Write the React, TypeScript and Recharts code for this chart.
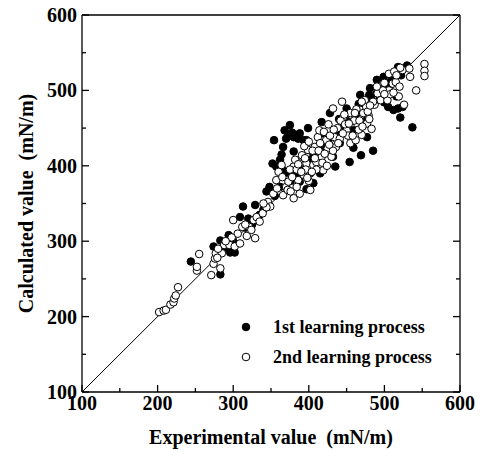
import { ScatterChart, Scatter, XAxis, YAxis, ReferenceLine, Legend } from "recharts"

const font = "'Liberation Serif', 'Times New Roman', serif"

const axisMin = 100
const axisMax = 600
const ticks = [100, 150, 200, 250, 300, 350, 400, 450, 500, 550, 600]

const seriesNames = ["1st learning process", "2nd learning process"]
const seriesFill = ["#000000", "#ffffff"]

// [experimental, calculated]
const firstProcess: [number, number][] = [
  [244, 273], [274, 293], [283, 256], [283, 301], [296, 285], [302, 285], [294, 308], [313, 346],
  [309, 332], [320, 330], [329, 348], [344, 366], [348, 372], [352, 403], [354, 434], [366, 425],
  [368, 447], [375, 454], [373, 441], [380, 438], [386, 436], [393, 434], [380, 419], [364, 415],
  [371, 391], [388, 379], [397, 369], [399, 450], [417, 458], [435, 399], [454, 405], [469, 414],
  [485, 420], [537, 451], [521, 464], [512, 474], [518, 476], [490, 514], [499, 518], [481, 503],
  [468, 494], [494, 492], [514, 522], [518, 531], [530, 533], [505, 478], [472, 474], [450, 476],
  [428, 470], [417, 443], [441, 430], [459, 447], [477, 461], [477, 438], [432, 412], [406, 416],
  [397, 434], [406, 377], [357, 399], [366, 394], [415, 390], [388, 443], [459, 424], [490, 496],
  [507, 505], [278, 280], [288, 290], [300, 300], [316, 318], [325, 322], [335, 335], [340, 342],
  [355, 360], [362, 372], [376, 380], [384, 390], [392, 398], [402, 408], [410, 420], [420, 425],
  [426, 436], [436, 445], [446, 452], [452, 460], [462, 468], [474, 480], [482, 490], [496, 502],
  [504, 510], [510, 515], [522, 520], [370, 436], [378, 444], [362, 408], [440, 462], [466, 482],
  [480, 494], [500, 484], [516, 492], [524, 478],
]

const secondProcess: [number, number][] = [
  [202, 206], [208, 208], [211, 209], [217, 216], [221, 219], [222, 224], [224, 228], [227, 239],
  [252, 261], [252, 266], [255, 283], [271, 255], [274, 270], [276, 277], [277, 284], [283, 264],
  [285, 284], [288, 295], [295, 295], [300, 328], [302, 293], [306, 310], [309, 297], [312, 319],
  [318, 307], [321, 319], [324, 315], [327, 328], [329, 304], [331, 332], [335, 326], [339, 337],
  [346, 352], [349, 346], [353, 363], [357, 381], [360, 392], [364, 401], [366, 361], [370, 372],
  [373, 379], [380, 357], [380, 399], [382, 408], [386, 381], [388, 403], [391, 414], [388, 363],
  [393, 388], [397, 403], [399, 421], [402, 390], [402, 368], [406, 401], [408, 425], [412, 438],
  [414, 447], [417, 412], [419, 394], [423, 434], [425, 423], [430, 412], [432, 476], [434, 438],
  [436, 425], [441, 436], [444, 485], [446, 465], [450, 447], [455, 430], [457, 467], [462, 434],
  [464, 456], [468, 474], [470, 441], [474, 487], [477, 456], [479, 467], [483, 449], [487, 481],
  [491, 496], [495, 487], [504, 487], [506, 500], [506, 522], [511, 509], [513, 525], [515, 511],
  [519, 492], [524, 527], [526, 481], [533, 529], [534, 518], [542, 500], [553, 535], [553, 526],
  [553, 519], [375, 395], [378, 385], [395, 410], [400, 380], [410, 405], [405, 420], [415, 430],
  [420, 445], [428, 440], [438, 450], [442, 460], [448, 455], [452, 440], [460, 460], [466, 448],
  [472, 470], [476, 478], [480, 462], [485, 485], [498, 500], [500, 510], [508, 495], [516, 520],
  [520, 505], [344, 345], [358, 370], [365, 385], [372, 368], [384, 395], [396, 395], [340, 350],
  [316, 322], [298, 305], [290, 300], [280, 290], [279, 278], [426, 455], [432, 420], [445, 443],
  [455, 470], [463, 475], [470, 485], [490, 505], [500, 495], [512, 497], [521, 530], [410, 395],
  [404, 392], [394, 426], [400, 432], [408, 410], [413, 420], [421, 416], [427, 428], [433, 448],
  [439, 430], [447, 468], [453, 456], [458, 440], [461, 470], [467, 460], [471, 452], [478, 472],
  [481, 480], [386, 402], [390, 392], [384, 372], [376, 366], [398, 384], [418, 404], [424, 400],
]

const toPoints = (pairs: [number, number][]) => pairs.map(([x, y]) => ({ x, y }))

const isMajor = (v: number) => v % 100 === 0
const tickLen = (v: number) => (isMajor(v) ? 7 : 4)
const textStyle = { fontFamily: font, fontWeight: "bold" as const, fontSize: 20, fill: "#000" }
const frame = { stroke: "#000", strokeWidth: 1.3 }

function BottomTick({ x, y, payload }: any) {
  const v = payload.value
  return (
    <g>
      <line x1={x} y1={y} x2={x} y2={y - tickLen(v)} stroke="#000" strokeWidth={1.3} />
      {isMajor(v) && (
        <text x={x} y={y + 18} textAnchor="middle" style={textStyle}>
          {v}
        </text>
      )}
    </g>
  )
}

function LeftTick({ x, y, payload }: any) {
  const v = payload.value
  return (
    <g>
      <line x1={x} y1={y} x2={x + tickLen(v)} y2={y} stroke="#000" strokeWidth={1.3} />
      {isMajor(v) && (
        <text x={x - 5} y={y + 7} textAnchor="end" style={textStyle}>
          {v}
        </text>
      )}
    </g>
  )
}

function TopTick({ x, y, payload }: any) {
  return (
    <g>
      <line x1={x} y1={y} x2={x} y2={y + tickLen(payload.value)} stroke="#000" strokeWidth={1.3} />
    </g>
  )
}

function RightTick({ x, y, payload }: any) {
  return (
    <g>
      <line x1={x} y1={y} x2={x - tickLen(payload.value)} y2={y} stroke="#000" strokeWidth={1.3} />
    </g>
  )
}

const dot = (fill: string) => (props: any) =>
  <circle cx={props.cx} cy={props.cy} r={3.8} fill={fill} stroke="#000" strokeWidth={1} />

const renderLegend = ({ payload }: any) => (
  <div style={{ fontFamily: font, fontWeight: "bold", fontSize: 18 }}>
    {(payload || []).map((entry: any, i: number) => (
      <div key={i} style={{ display: "flex", alignItems: "center", height: 30 }}>
        <svg width={10} height={10} style={{ marginRight: 22 }}>
          <circle cx={5} cy={5} r={3.8} fill={seriesFill[seriesNames.indexOf(entry.value)]} stroke="#000" strokeWidth={1} />
        </svg>
        <span style={{ whiteSpace: "pre" }}>{entry.value}</span>
      </div>
    ))}
  </div>
)

export default function App() {
  return (
    <div style={{ position: "absolute", left: 0, top: 0, background: "#fff" }}>
      <ScatterChart width={481} height={450} margin={{ top: 14, right: 20, bottom: 0, left: 0 }}>
        <ReferenceLine
          segment={[{ x: axisMin, y: axisMin }, { x: axisMax, y: axisMax }]}
          stroke="#000"
          strokeWidth={1}
          ifOverflow="visible"
        />
        <Scatter
          name={seriesNames[0]}
          data={toPoints(firstProcess)}
          fill={seriesFill[0]}
          shape={dot(seriesFill[0])}
          isAnimationActive={false}
        />
        <Scatter
          name={seriesNames[1]}
          data={toPoints(secondProcess)}
          fill={seriesFill[1]}
          shape={dot(seriesFill[1])}
          isAnimationActive={false}
        />
        <XAxis
          xAxisId={0}
          type="number"
          dataKey="x"
          domain={[axisMin, axisMax]}
          ticks={ticks}
          interval={0}
          allowDataOverflow
          height={58}
          tickSize={0}
          tickMargin={0}
          tickLine={false}
          tick={<BottomTick />}
          axisLine={frame}
          label={{
            content: ({ viewBox }: any) => (
              <text x={viewBox.x + viewBox.width / 2} y={viewBox.y + 52} textAnchor="middle" style={{ ...textStyle, whiteSpace: "pre" }}>
                {"Experimental value  (mN/m)"}
              </text>
            ),
          }}
        />
        <XAxis
          xAxisId="top"
          orientation="top"
          type="number"
          domain={[axisMin, axisMax]}
          ticks={ticks}
          interval={0}
          allowDataOverflow
          height={1}
          tickSize={0}
          tickMargin={0}
          tickLine={false}
          tick={<TopTick />}
          axisLine={frame}
        />
        <YAxis
          yAxisId={0}
          type="number"
          dataKey="y"
          domain={[axisMin, axisMax]}
          ticks={ticks}
          interval={0}
          allowDataOverflow
          width={82}
          tickSize={0}
          tickMargin={0}
          tickLine={false}
          tick={<LeftTick />}
          axisLine={frame}
          label={{
            content: ({ viewBox }: any) => {
              const cx = viewBox.x + 33
              const cy = viewBox.y + viewBox.height / 2
              return (
                <text x={cx} y={cy} textAnchor="middle" transform={`rotate(-90, ${cx}, ${cy})`} style={{ ...textStyle, whiteSpace: "pre" }}>
                  {"Calculated value  (mN/m)"}
                </text>
              )
            },
          }}
        />
        <YAxis
          yAxisId="right"
          orientation="right"
          type="number"
          domain={[axisMin, axisMax]}
          ticks={ticks}
          interval={0}
          allowDataOverflow
          width={1}
          tickSize={0}
          tickMargin={0}
          tickLine={false}
          tick={<RightTick />}
          axisLine={frame}
        />
        <Legend
          layout="vertical"
          align="center"
          verticalAlign="middle"
          content={renderLegend}
          wrapperStyle={{ left: 241, top: 312, width: 230 }}
        />
      </ScatterChart>
    </div>
  )
}
